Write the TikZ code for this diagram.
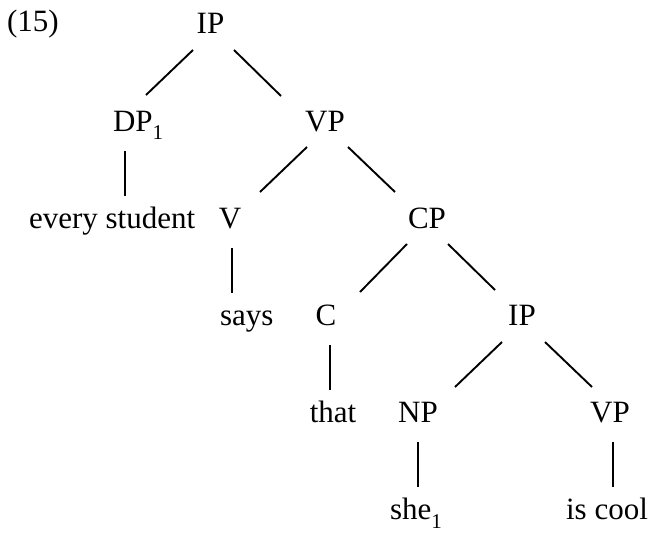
\documentclass[tikz,border=0pt]{standalone}
\usepackage{fontspec}
\setmainfont{Liberation Serif}
\usetikzlibrary{calc}
\newcommand\subidx[1]{\raisebox{-9pt}{\fontsize{21}{21}\selectfont #1}}
\begin{document}
\begin{tikzpicture}[x=1pt,y=-1pt,
  lbl/.style={inner sep=0pt,outer sep=0pt,anchor=base,font=\fontsize{31}{37}\selectfont},
  br/.style={line width=1.9pt}]
\useasboundingbox (0,0) rectangle (671,532);
% labels
\node[lbl,anchor=base west] (num) at (7,32) {(15)};
\node[lbl] (ip0) at (210.5,34) {IP};
\node[lbl,anchor=base west] (dp) at (113,131) {DP\subidx{1}};
\node[lbl] (vp1) at (325,131) {VP};
\node[lbl,anchor=base west] (every) at (29,228) {every student};
\node[lbl] (v) at (230,228) {V};
\node[lbl] (cp) at (427,228) {CP};
\node[lbl,anchor=base west] (says) at (220,325) {says};
\node[lbl] (c) at (326,325) {C};
\node[lbl] (ip2) at (522,325) {IP};
\node[lbl] (that) at (333,422) {that};
\node[lbl] (np) at (418,422) {NP};
\node[lbl] (vp3) at (610,422) {VP};
\node[lbl,anchor=base west] (she) at (390,519) {she\subidx{1}};
\node[lbl] (iscool) at (607,519) {is cool};
% branches
\draw[br] ($(ip0.base)+(-17.5,16)$) -- ($(dp.base west)+(33,-36)$);
\draw[br] ($(ip0.base)+(23.5,16)$) -- ($(vp1.base)+(-44,-35)$);
\draw[br] ($(dp.base west)+(12,20)$) -- ($(every.base west)+(96,-32)$);
\draw[br] ($(vp1.base)+(-18,16)$) -- ($(v.base)+(30,-36)$);
\draw[br] ($(vp1.base)+(23,16)$) -- ($(cp.base)+(-32,-36)$);
\draw[br] ($(v.base)+(2,20)$) -- ($(says.base west)+(12,-32)$);
\draw[br] ($(cp.base)+(-20,16)$) -- ($(c.base)+(34,-33)$);
\draw[br] ($(cp.base)+(21,16)$) -- ($(ip2.base)+(-27,-35)$);
\draw[br] ($(c.base)+(4,20)$) -- ($(that.base)+(-3,-32)$);
\draw[br] ($(ip2.base)+(-20,17)$) -- ($(np.base)+(37,-35)$);
\draw[br] ($(ip2.base)+(23,17)$) -- ($(vp3.base)+(-18,-35)$);
\draw[br] ($(np.base)+(0,20)$) -- ($(she.base west)+(28,-32)$);
\draw[br] ($(vp3.base)+(3,20)$) -- ($(iscool.base)+(6,-32)$);
\end{tikzpicture}
\end{document}
